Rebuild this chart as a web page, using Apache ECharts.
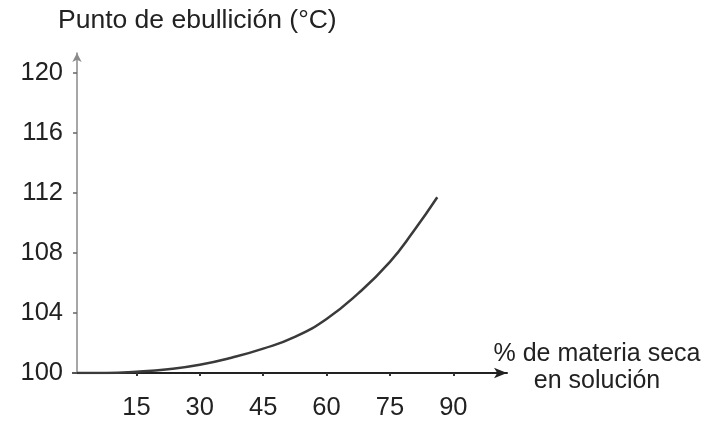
<!DOCTYPE html>
<html>
<head>
<meta charset="utf-8">
<script src="https://cdn.jsdelivr.net/npm/echarts@6/dist/echarts.min.js"></script>
<style>
  html, body { margin: 0; padding: 0; background: #ffffff; }
  #chart { width: 710px; height: 425px; }
</style>
</head>
<body>
<div id="chart"></div>
<script>
// Data
const solidsPercent = [1, 8, 15, 22.5, 30, 37.5, 45, 52.5, 60, 67.5, 75, 80.5, 86.2];
const boilingPoint = [100, 100, 100.08, 100.25, 100.55, 101.02, 101.62, 102.4, 103.6, 105.3, 107.4, 109.4, 111.7];
const xTickLabels = [15, 30, 45, 60, 75, 90];
const yTickLabels = [100, 104, 108, 112, 116, 120];
const titleText = 'Punto de ebullición (°C)';
const xNameText = '% de materia seca\nen solución';

const FONT = '"Liberation Sans", Arial, sans-serif';
const chart = echarts.init(document.getElementById('chart'), null, { renderer: 'canvas' });

chart.setOption({
  animation: false,
  backgroundColor: '#ffffff',
  title: {
    text: titleText,
    left: 58,
    top: 7,
    padding: 0,
    textStyle: { fontSize: 26.5, fontWeight: 'normal', color: '#222', fontFamily: FONT }
  },
  grid: { left: 73, right: 203, top: 53, bottom: 52, containLabel: false, outerBoundsMode: 'none' },
  xAxis: {
    type: 'value',
    min: 0,
    max: 102.7,
    axisLine: {
      show: true,
      onZero: false,
      symbol: ['none', 'arrow'],
      symbolSize: [8, 13],
      lineStyle: { color: '#222', width: 2 }
    },
    axisTick: { show: true, customValues: xTickLabels, length: 3, lineStyle: { color: '#333', width: 2 } },
    axisLabel: {
      show: true,
      customValues: xTickLabels,
      margin: 22,
      fontSize: 25.5,
      color: '#222',
      fontFamily: FONT
    },
    splitLine: { show: false }
  },
  yAxis: {
    type: 'value',
    min: 100,
    max: 121.3,
    offset: -4,
    axisLine: {
      show: true,
      symbol: ['none', 'arrow'],
      symbolSize: [7, 9],
      lineStyle: { color: '#8a8a8a', width: 1.5 }
    },
    axisTick: { show: true, customValues: yTickLabels, length: 4, lineStyle: { color: '#666', width: 1.5 } },
    axisLabel: {
      show: true,
      customValues: yTickLabels,
      margin: 14,
      fontSize: 25.5,
      color: '#222',
      fontFamily: FONT
    },
    splitLine: { show: false }
  },
  graphic: [{
    type: 'text',
    style: {
      x: 597,
      y: 341,
      text: xNameText,
      align: 'center',
      verticalAlign: 'top',
      lineHeight: 27,
      fontSize: 25,
      fill: '#222',
      fontFamily: FONT
    }
  }],
  series: [{
    type: 'line',
    data: solidsPercent.map((x, i) => [x, boilingPoint[i]]),
    smooth: 0.5,
    showSymbol: false,
    symbol: 'none',
    lineStyle: { color: '#3a3a3a', width: 2.5 },
    z: 3
  }]
});
</script>
</body>
</html>
